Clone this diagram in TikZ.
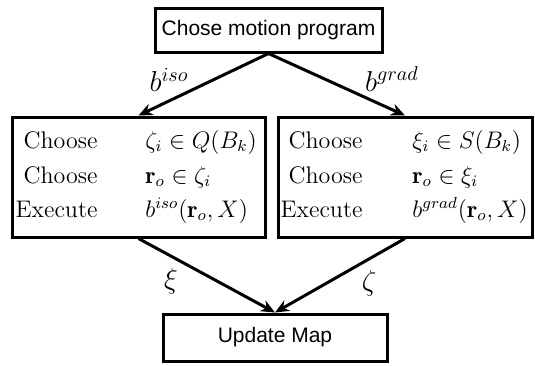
\documentclass[tikz,border=0pt]{standalone}
\usepackage{fontspec}
\newfontfamily\arialfont{Liberation Sans}
\usetikzlibrary{arrows.meta}
\begin{document}
\begin{tikzpicture}[x=0.5pt,y=-0.5pt,
  box/.style={draw,line width=1.5pt,inner sep=0pt,anchor=center},
  conn/.style={line width=1.5pt,-{Stealth[length=7pt,width=6pt]}},
  lbl/.style={font=\fontsize{14}{16}\selectfont,inner sep=0pt},
  rowl/.style={font=\fontsize{12}{14}\selectfont,inner sep=0pt,anchor=base east},
  rowr/.style={font=\fontsize{12}{14}\selectfont,inner sep=0pt,anchor=base west}]
\useasboundingbox (0,0) rectangle (535,365);
\node[box,minimum width=113.5pt,minimum height=22pt,font=\arialfont\fontsize{10.5}{12}\selectfont] (top) at (268.5,30) {Chose motion program};
\node[box,minimum width=126.5pt,minimum height=60pt] (left) at (138.5,177) {};
\node[box,minimum width=127pt,minimum height=60pt] (right) at (405,177) {};
\node[box,minimum width=112pt,minimum height=23.5pt,font=\arialfont\fontsize{10.5}{12}\selectfont] (upd) at (275,337.5) {Update Map};
% left box rows
\node[rowl] (l1a) at (98,148) {Choose};
\node[rowr] (l1b) at (145,148) {$\zeta_i\in Q(B_k)$};
\node[rowl] (l2a) at (98,183) {Choose};
\node[rowr] (l2b) at (145,183) {$\mathbf{r}_o\in\zeta_i$};
\node[rowl] (l3a) at (98,217) {Execute};
\node[rowr] (l3b) at (145,217) {$b^{iso}(\mathbf{r}_o,X)$};
% right box rows
\node[rowl] (r1a) at (363,148) {Choose};
\node[rowr] (r1b) at (412,148) {$\xi_i\in S(B_k)$};
\node[rowl] (r2a) at (363,183) {Choose};
\node[rowr] (r2b) at (412,183) {$\mathbf{r}_o\in\xi_i$};
\node[rowl] (r3a) at (363,217) {Execute};
\node[rowr] (r3b) at (412,217) {$b^{grad}(\mathbf{r}_o,X)$};
% connectors
\draw[conn] (top.south) -- (left.north);
\draw[conn] (top.south) -- (right.north);
\draw[conn] (left.south) -- (upd.north);
\draw[conn] (right.south) -- (upd.north);
% labels
\node[lbl] (liso) at (169,80) {$b^{iso}$};
\node[lbl] (lgrad) at (392,79) {$b^{grad}$};
\node[lbl] (lxi) at (171,281) {$\xi$};
\node[lbl] (lzeta) at (369,283) {$\zeta$};
\end{tikzpicture}
\end{document}
